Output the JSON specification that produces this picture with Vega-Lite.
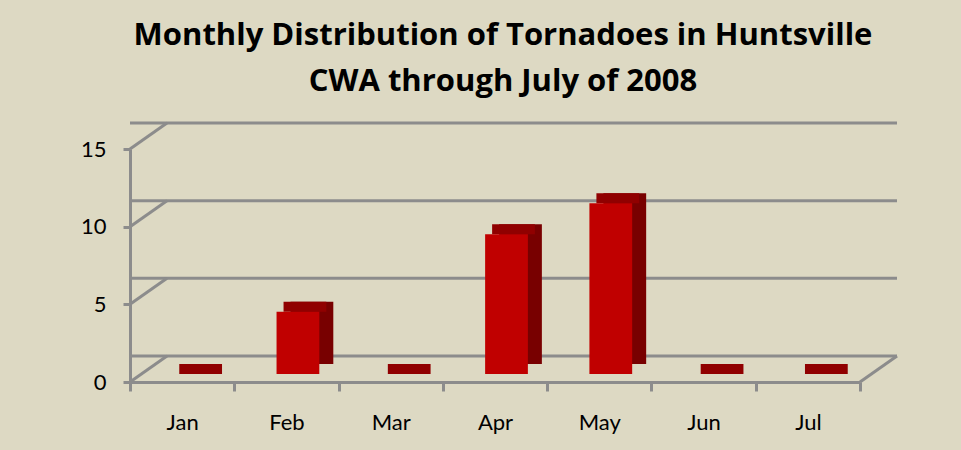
{
  "$schema": "https://vega.github.io/schema/vega-lite/v6.json",
  "width": 730,
  "height": 233,
  "autosize": {"type": "none"},
  "padding": {"left": 130, "top": 149, "right": 101, "bottom": 68},
  "background": "#ddd9c3",
  "title": {
    "text": ["Monthly Distribution of Tornadoes in Huntsville", "CWA through July of 2008"],
    "font": "Open Sans",
    "fontSize": 31,
    "fontWeight": "bold",
    "color": "#000000",
    "anchor": "middle",
    "frame": "group",
    "dx": 8,
    "offset": 24,
    "lineHeight": 46
  },
  "config": {
    "view": {"stroke": null},
    "axis": {
      "domainColor": "#8c8c8c",
      "domainWidth": 3,
      "tickColor": "#8c8c8c",
      "tickWidth": 3,
      "labelFont": "Lato",
      "labelFontSize": 22,
      "labelColor": "#000000",
      "grid": false,
      "title": null
    },
    "axisY": {"tickSize": 7, "labelPadding": 17},
    "axisX": {"tickSize": 9, "tickBand": "extent", "labelPadding": 21, "labelAngle": 0}
  },
  "datasets": {
    "tornadoes": [
      {"month": "Jan", "count": 0},
      {"month": "Feb", "count": 4},
      {"month": "Mar", "count": 0},
      {"month": "Apr", "count": 9},
      {"month": "May", "count": 11},
      {"month": "Jun", "count": 0},
      {"month": "Jul", "count": 0}
    ],
    "levels": [
      {"level": 0},
      {"level": 5},
      {"level": 10},
      {"level": 15}
    ]
  },
  "layer": [
    {
      "data": {"name": "levels"},
      "mark": {"type": "rule", "color": "#8c8c8c", "strokeWidth": 3, "xOffset": 37, "x2Offset": 37, "yOffset": -26},
      "encoding": {
        "y": {"field": "level", "type": "quantitative", "scale": {"domain": [0, 15], "nice": false}, "axis": {"values": [0, 5, 10, 15], "title": null}}
      }
    },
    {
      "data": {"name": "levels"},
      "mark": {"type": "rule", "color": "#8c8c8c", "strokeWidth": 3, "x2Offset": 37, "y2Offset": -26},
      "encoding": {
        "x": {"datum": "Jan", "type": "nominal", "bandPosition": 0, "axis": {"title": null}},
        "x2": {"datum": "Jan", "bandPosition": 0},
        "y": {"field": "level", "type": "quantitative", "axis": {"values": [0, 5, 10, 15], "title": null}},
        "y2": {"field": "level"}
      }
    },
    {
      "data": {"name": "levels"},
      "transform": [{"filter": "datum.level == 0"}],
      "mark": {"type": "rule", "color": "#8c8c8c", "strokeWidth": 3, "x2Offset": 37, "y2Offset": -26},
      "encoding": {
        "x": {"datum": "Jul", "type": "nominal", "bandPosition": 1, "axis": {"title": null}},
        "x2": {"datum": "Jul", "bandPosition": 1},
        "y": {"field": "level", "type": "quantitative", "axis": {"values": [0, 5, 10, 15], "title": null}},
        "y2": {"field": "level"}
      }
    },
    {
      "data": {"name": "tornadoes"},
      "mark": {"type": "bar", "color": "#780000", "width": {"band": 0.41}, "xOffset": 25.5, "yOffset": -18, "y2Offset": -18},
      "encoding": {
        "x": {"field": "month", "type": "nominal", "sort": null, "scale": {"domain": ["Jan", "Feb", "Mar", "Apr", "May", "Jun", "Jul"], "paddingInner": 0, "paddingOuter": 0}, "axis": {"title": null}},
        "y": {"field": "count", "type": "quantitative", "axis": {"values": [0, 5, 10, 15], "title": null}}
      }
    },
    {
      "data": {"name": "tornadoes"},
      "mark": {"type": "bar", "color": "#900000", "width": {"band": 0.41}, "xOffset": 18.5, "yOffset": -8, "y2Offset": -18},
      "encoding": {
        "x": {"field": "month", "type": "nominal", "sort": null, "axis": {"title": null}},
        "y": {"field": "count", "type": "quantitative", "axis": {"values": [0, 5, 10, 15], "title": null}},
        "y2": {"field": "count"}
      }
    },
    {
      "data": {"name": "tornadoes"},
      "mark": {"type": "bar", "color": "#c00000", "width": {"band": 0.41}, "xOffset": 11.5, "yOffset": -8, "y2Offset": -8},
      "encoding": {
        "x": {"field": "month", "type": "nominal", "sort": null, "axis": {"title": null}},
        "y": {"field": "count", "type": "quantitative", "axis": {"values": [0, 5, 10, 15], "title": null}}
      }
    }
  ]
}
